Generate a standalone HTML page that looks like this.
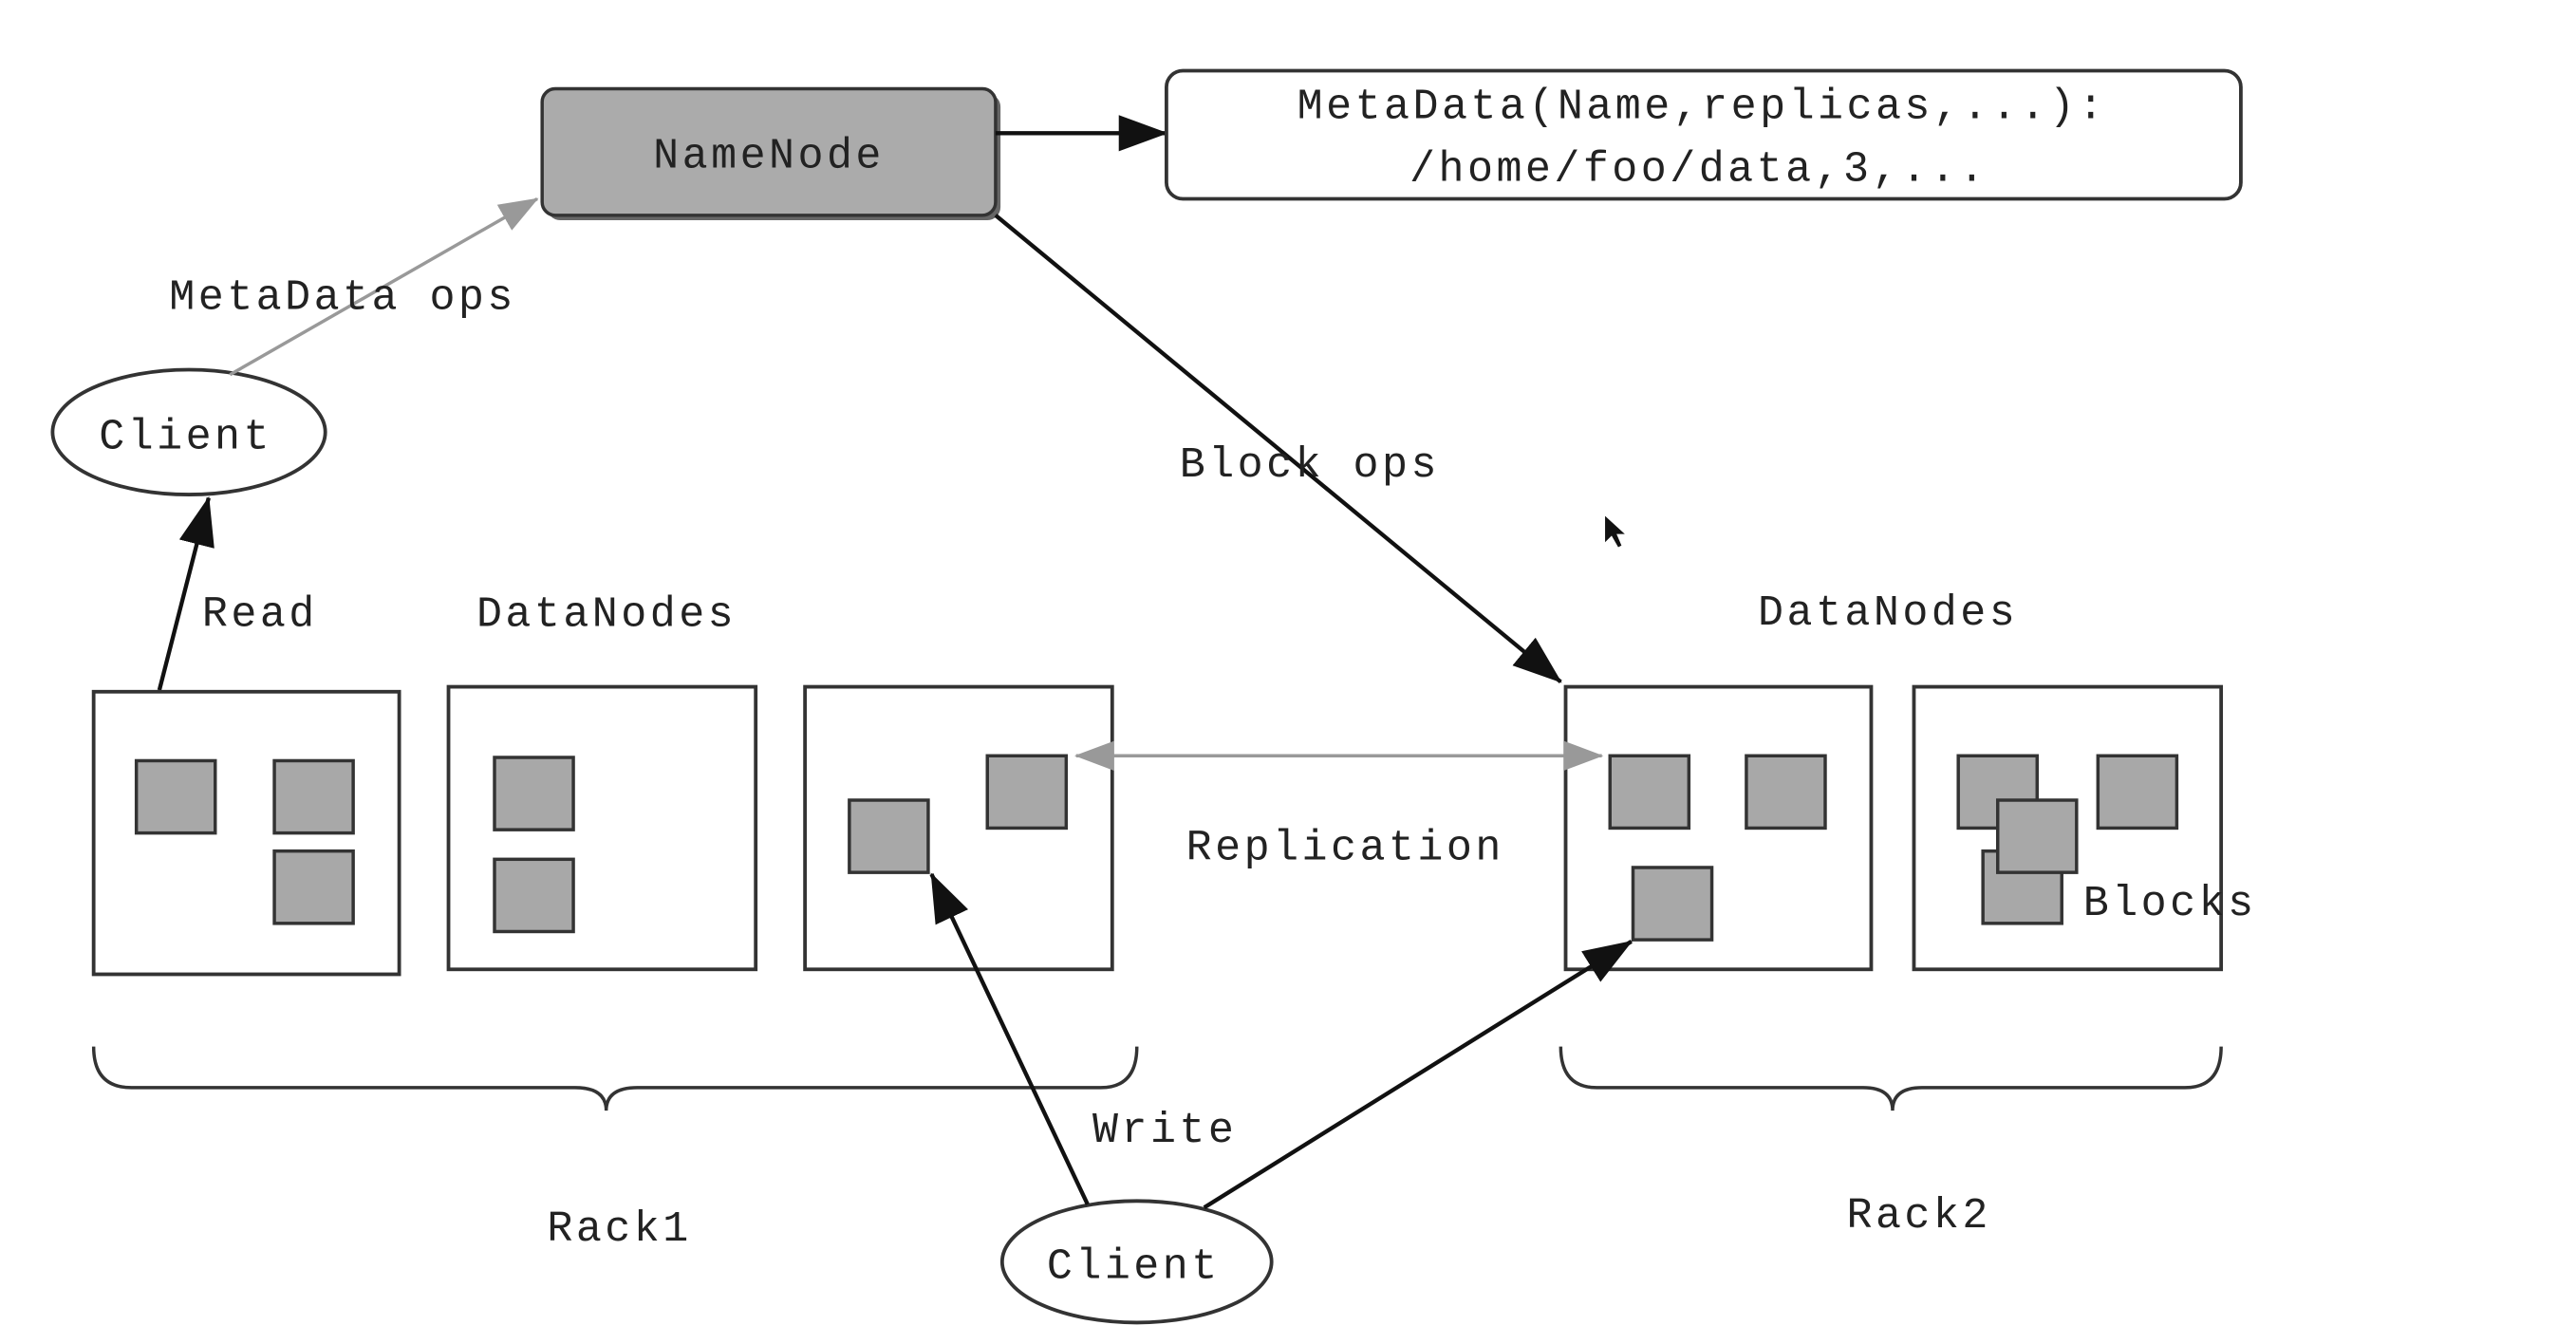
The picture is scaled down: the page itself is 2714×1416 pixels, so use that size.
<!DOCTYPE html>
<html><head><meta charset="utf-8"><style>
html,body{margin:0;padding:0;background:#fff;}
svg{display:block}
text{font-family:"Liberation Mono","Noto Sans CJK SC",monospace;font-size:26px;letter-spacing:2px;fill:#222}
.sq{fill:#a8a8a8;stroke:#333;stroke-width:2}
.bx{fill:#fff;stroke:#333;stroke-width:2.2}
</style></head><body>
<svg width="2714" height="1416" viewBox="0 0 1568 818" xmlns="http://www.w3.org/2000/svg">
<defs>
<marker id="ab" markerWidth="12" markerHeight="10" refX="11" refY="5" orient="auto" markerUnits="userSpaceOnUse" viewBox="0 0 12 10"><path d="M0,0 L12,5 L0,10 Z" fill="#111"/></marker>
<marker id="abk" markerWidth="30" markerHeight="22" refX="29" refY="11" orient="auto" markerUnits="userSpaceOnUse"><path d="M0,0 L30,11 L0,22 Z" fill="#111"/></marker>
<marker id="ag" markerWidth="24" markerHeight="18" refX="23" refY="9" orient="auto" markerUnits="userSpaceOnUse"><path d="M0,0 L24,9 L0,18 Z" fill="#999"/></marker>
<marker id="ags" markerWidth="24" markerHeight="18" refX="1" refY="9" orient="auto" markerUnits="userSpaceOnUse"><path d="M24,0 L0,9 L24,18 Z" fill="#999"/></marker>
</defs>
<rect width="1568" height="818" fill="#fff"/>
<!-- NameNode -->
<rect x="333" y="57" width="276" height="77" rx="8" fill="#666"/>
<rect x="330" y="54" width="276" height="77" rx="8" fill="#ababab" stroke="#333" stroke-width="2"/>
<text x="468" y="102" text-anchor="middle">NameNode</text>
<line x1="606" y1="81" x2="710" y2="81" stroke="#111" stroke-width="2.5" marker-end="url(#abk)"/>
<rect x="710" y="43" width="654" height="78" rx="10" class="bx"/>
<text x="1036" y="72" text-anchor="middle">MetaData(Name,replicas,...):</text>
<text x="1034" y="110" text-anchor="middle">/home/foo/data,3,...</text>
<!-- client top -->
<ellipse cx="115" cy="263" rx="83" ry="38" class="bx"/>
<text x="113" y="273" text-anchor="middle">Client</text>
<line x1="140" y1="228" x2="327" y2="121" stroke="#999" stroke-width="2" marker-end="url(#ag)"/>
<text x="103" y="188">MetaData ops</text>
<line x1="97" y1="420" x2="127" y2="303" stroke="#111" stroke-width="2.5" marker-end="url(#abk)"/>
<text x="123" y="381">Read</text>
<text x="290" y="381">DataNodes</text>
<text x="1070" y="380">DataNodes</text>
<!-- block ops -->
<line x1="606" y1="131" x2="950" y2="415" stroke="#111" stroke-width="2.5" marker-end="url(#abk)"/>
<text x="718" y="290">Block ops</text>
<!-- boxes -->
<rect x="57" y="421" width="186" height="172" class="bx"/>
<rect x="273" y="418" width="187" height="172" class="bx"/>
<rect x="490" y="418" width="187" height="172" class="bx"/>
<rect x="953" y="418" width="186" height="172" class="bx"/>
<rect x="1165" y="418" width="187" height="172" class="bx"/>
<rect class="sq" x="83" y="463" width="48" height="44"/>
<rect class="sq" x="167" y="463" width="48" height="44"/>
<rect class="sq" x="167" y="518" width="48" height="44"/>
<rect class="sq" x="301" y="461" width="48" height="44"/>
<rect class="sq" x="301" y="523" width="48" height="44"/>
<rect class="sq" x="517" y="487" width="48" height="44"/>
<rect class="sq" x="601" y="460" width="48" height="44"/>
<rect class="sq" x="980" y="460" width="48" height="44"/>
<rect class="sq" x="1063" y="460" width="48" height="44"/>
<rect class="sq" x="994" y="528" width="48" height="44"/>
<rect class="sq" x="1192" y="460" width="48" height="44"/>
<rect class="sq" x="1277" y="460" width="48" height="44"/>
<rect class="sq" x="1207" y="518" width="48" height="44"/>
<rect class="sq" x="1216" y="487" width="48" height="44"/>
<text x="1268" y="557">Blocks</text>
<!-- replication -->
<line x1="655" y1="460" x2="975" y2="460" stroke="#999" stroke-width="2" marker-start="url(#ags)" marker-end="url(#ag)"/>
<text x="722" y="523">Replication</text>
<!-- braces -->
<path d="M57,637 Q57,662 80,662 L350,662 Q369,662 369,676 Q369,662 388,662 L670,662 Q692,662 692,637" fill="none" stroke="#333" stroke-width="2"/>
<path d="M950,637 Q950,662 972,662 L1134,662 Q1152,662 1152,676 Q1152,662 1170,662 L1330,662 Q1352,662 1352,637" fill="none" stroke="#333" stroke-width="2"/>
<text x="333" y="755">Rack1</text>
<text x="1124" y="747">Rack2</text>
<!-- bottom client -->
<ellipse cx="692" cy="768" rx="82" ry="37" class="bx"/>
<text x="690" y="778" text-anchor="middle">Client</text>
<line x1="662" y1="733" x2="567" y2="532" stroke="#111" stroke-width="2.5" marker-end="url(#abk)"/>
<line x1="733" y1="735" x2="993" y2="573" stroke="#111" stroke-width="2.5" marker-end="url(#abk)"/>
<text x="665" y="695">Write</text>
<path d="M977,314 L977,330 L981,326 L985,333 L987,332 L984,325 L989,325 Z" fill="#111"/>
</svg>
</body></html>
